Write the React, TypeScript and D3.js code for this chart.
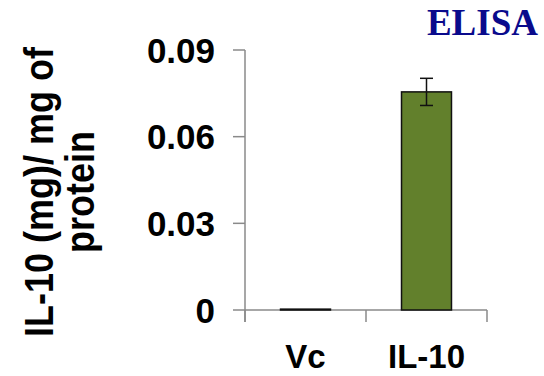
import React, { useEffect, useRef } from 'react'
import * as d3 from 'd3'

const categories = ['Vc', 'IL-10']
const values = [0.0003, 0.0755]
const errors = [0, 0.0047]
const yTicks = [0, 0.03, 0.06, 0.09]
const tickLabels = ['0', '0.03', '0.06', '0.09']

const W = 544
const H = 376

export default function App() {
  const svgRef = useRef<SVGSVGElement>(null)

  useEffect(() => {
    const svg = d3.select(svgRef.current)
    svg.selectAll('*').remove()

    const left = 245, right = 487, top = 50, bottom = 310
    const x = d3.scaleBand().domain(categories).range([left, right]).paddingInner(0.587).paddingOuter(0.2935)
    const y = d3.scaleLinear().domain([0, 0.09]).range([bottom, top])

    const axisColor = '#8a8a8a'
    const boldFont = '"Liberation Sans", Arial, sans-serif'

    // y axis line + ticks
    svg.append('line')
      .attr('x1', left).attr('x2', left).attr('y1', top).attr('y2', bottom + 12)
      .attr('stroke', axisColor).attr('stroke-width', 1.5)
    svg.append('g').selectAll('line').data(yTicks).enter().append('line')
      .attr('x1', left - 12).attr('x2', left)
      .attr('y1', d => y(d)).attr('y2', d => y(d))
      .attr('stroke', axisColor).attr('stroke-width', 1.5)
    svg.append('g').selectAll('text').data(yTicks).enter().append('text')
      .attr('x', 215).attr('y', d => y(d)).attr('dy', '0.36em')
      .attr('text-anchor', 'end')
      .style('font-family', boldFont).style('font-weight', 'bold').style('font-size', '35px')
      .text((d, i) => tickLabels[i])

    // x axis
    svg.append('line')
      .attr('x1', left).attr('x2', right).attr('y1', bottom).attr('y2', bottom)
      .attr('stroke', axisColor).attr('stroke-width', 1.5)
    const sep = [left, (left + right) / 2, right]
    svg.append('g').selectAll('line').data(sep).enter().append('line')
      .attr('x1', d => d).attr('x2', d => d).attr('y1', bottom).attr('y2', bottom + 12)
      .attr('stroke', axisColor).attr('stroke-width', 1.5)

    // bars
    svg.append('g').selectAll('rect').data(values).enter().append('rect')
      .attr('x', (d, i) => x(categories[i])!)
      .attr('width', x.bandwidth())
      .attr('y', d => y(d))
      .attr('height', d => bottom - y(d))
      .attr('fill', '#62802c')
      .attr('stroke', '#111').attr('stroke-width', 1.5)

    // error bars
    const eb = svg.append('g')
    values.forEach((v, i) => {
      if (!errors[i]) return
      const cx = x(categories[i])! + x.bandwidth() / 2
      eb.append('line').attr('x1', cx).attr('x2', cx).attr('y1', y(v + errors[i])).attr('y2', y(v - errors[i]))
        .attr('stroke', '#111').attr('stroke-width', 1.5)
      ;[v + errors[i], v - errors[i]].forEach(e => {
        eb.append('line').attr('x1', cx - 6.5).attr('x2', cx + 6.5).attr('y1', y(e)).attr('y2', y(e))
          .attr('stroke', '#111').attr('stroke-width', 1.5)
      })
    })

    // category labels
    svg.append('g').selectAll('text').data(categories).enter().append('text')
      .attr('x', d => x(d)! + x.bandwidth() / 2).attr('y', 368)
      .attr('text-anchor', 'middle')
      .style('font-family', boldFont).style('font-weight', 'bold').style('font-size', '33px')
      .text(d => d)

    // y label (slightly stretched across, like the original)
    const yl = svg.append('text')
      .attr('transform', 'translate(53,192) rotate(-90) scale(1,1.12)')
      .attr('text-anchor', 'middle')
      .style('font-family', boldFont).style('font-weight', 'bold').style('font-size', '36px')
    yl.append('tspan').attr('x', 0).attr('y', 0).text('IL-10 (mg)/ mg of')
    yl.append('tspan').attr('x', 0).attr('y', 36.6).text('protein')

    // title
    svg.append('text')
      .attr('x', 538).attr('y', 35).attr('text-anchor', 'end')
      .style('font-family', '"Liberation Serif", "Times New Roman", serif')
      .style('font-weight', 'bold').style('font-size', '37px')
      .attr('fill', '#0a0a8c')
      .text('ELISA')
  }, [])

  return (
    <svg ref={svgRef} width={W} height={H}
      style={{ position: 'absolute', left: 0, top: 0, background: '#fff' }} />
  )
}
